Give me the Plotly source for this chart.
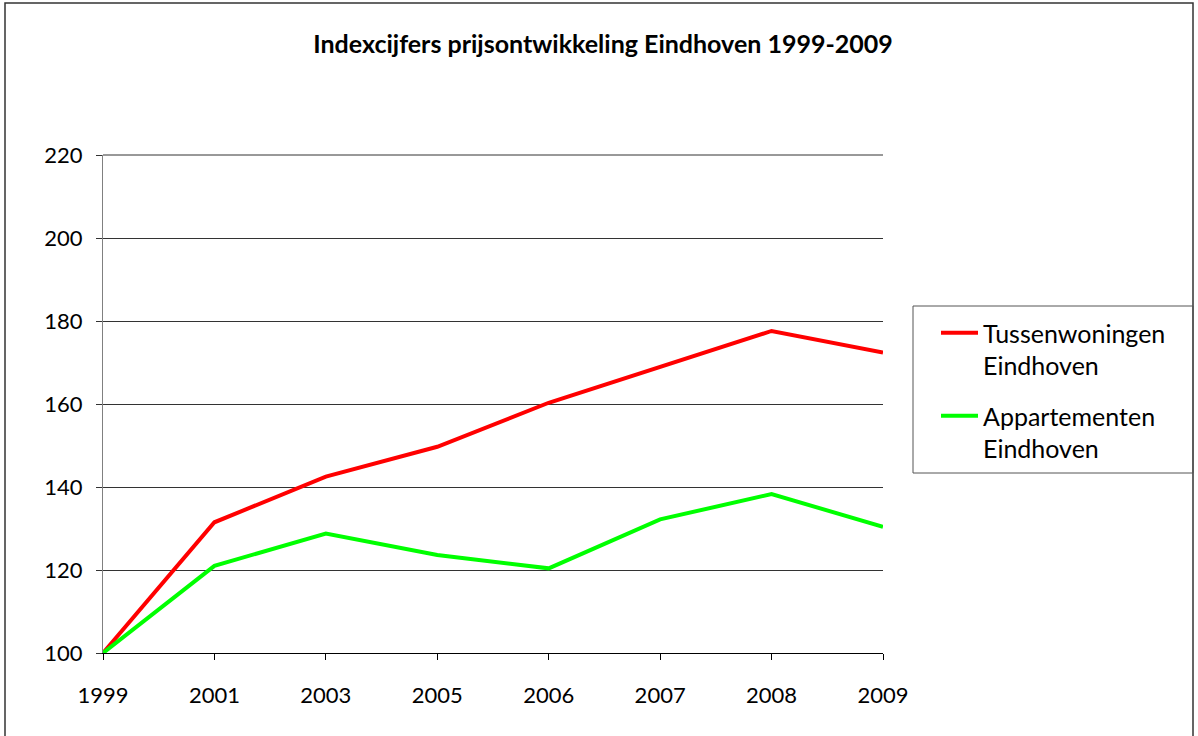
import plotly.graph_objects as go

years = ["1999", "2001", "2003", "2005", "2006", "2007", "2008", "2009"]
tussenwoningen = [100, 131.5, 142.5, 149.7, 160.3, 169.0, 177.6, 172.4]
appartementen = [100, 121.0, 128.8, 123.6, 120.4, 132.2, 138.3, 130.4]
series_names = ["Tussenwoningen<br>Eindhoven", "Appartementen<br>Eindhoven"]
y_ticks = [100, 120, 140, 160, 180, 200, 220]

FONT = "Lato"
L, R, T, B = 103, 315, 155, 83
W, H = 1198, 736
pw, ph = W - L - R, H - T - B

def px_x(px):
    return (px - L) / pw

def px_y(py):
    return (H - B - py) / ph

xs = list(range(len(years)))

fig = go.Figure()
fig.add_trace(go.Scatter(x=xs, y=tussenwoningen, mode="lines", name=series_names[0],
                         legendgroup="a", line=dict(color="#FF0000", width=4)))
fig.add_trace(go.Scatter(x=xs, y=appartementen, mode="lines", name=series_names[1],
                         legendgroup="b", line=dict(color="#00FF00", width=4)))

fig.update_layout(
    width=W, height=H,
    margin=dict(l=L, r=R, t=T, b=B),
    paper_bgcolor="white", plot_bgcolor="white",
    font=dict(family=FONT, color="black", size=22),
    title=dict(text="<b>Indexcijfers prijsontwikkeling Eindhoven 1999-2009</b>",
               x=px_x(603), xref="paper", xanchor="center",
               y=1 - 44 / H, yref="container", yanchor="middle",
               font=dict(size=25, family=FONT)),
    showlegend=True,
    legend=dict(x=px_x(936), y=px_y(310), xanchor="left", yanchor="top",
                borderwidth=0, bgcolor="rgba(0,0,0,0)",
                font=dict(size=25, family=FONT), valign="top",
                itemwidth=37, tracegroupgap=15),
    xaxis=dict(tickmode="array", tickvals=xs, ticktext=years, range=[0, len(years) - 1],
               showgrid=False, zeroline=False, showline=True, linecolor="black", linewidth=1,
               ticks="outside", ticklen=6, tickcolor="black", ticklabelstandoff=17,
               tickfont=dict(size=22, family=FONT)),
    yaxis=dict(range=[100, 220], tickvals=y_ticks, showgrid=True, gridcolor="#333",
               gridwidth=1, zeroline=False, showline=True, linecolor="#808080", linewidth=1,
               ticks="outside", ticklen=6, tickcolor="#333", ticklabelstandoff=9,
               tickfont=dict(size=22, family=FONT)),
    shapes=[dict(type="line", xref="paper", yref="paper", x0=0, x1=1, y0=1, y1=1,
                 line=dict(color="#333", width=1)),
            dict(type="rect", xref="paper", yref="paper",
                 x0=px_x(5), x1=px_x(1193), y0=px_y(739), y1=px_y(3),
                 line=dict(color="#333", width=1.5), layer="below"),
            dict(type="rect", xref="paper", yref="paper",
                 x0=px_x(913), x1=px_x(1193), y0=px_y(473), y1=px_y(306),
                 line=dict(color="#555", width=1), layer="below")],
)

fig.write_html("out.html")
